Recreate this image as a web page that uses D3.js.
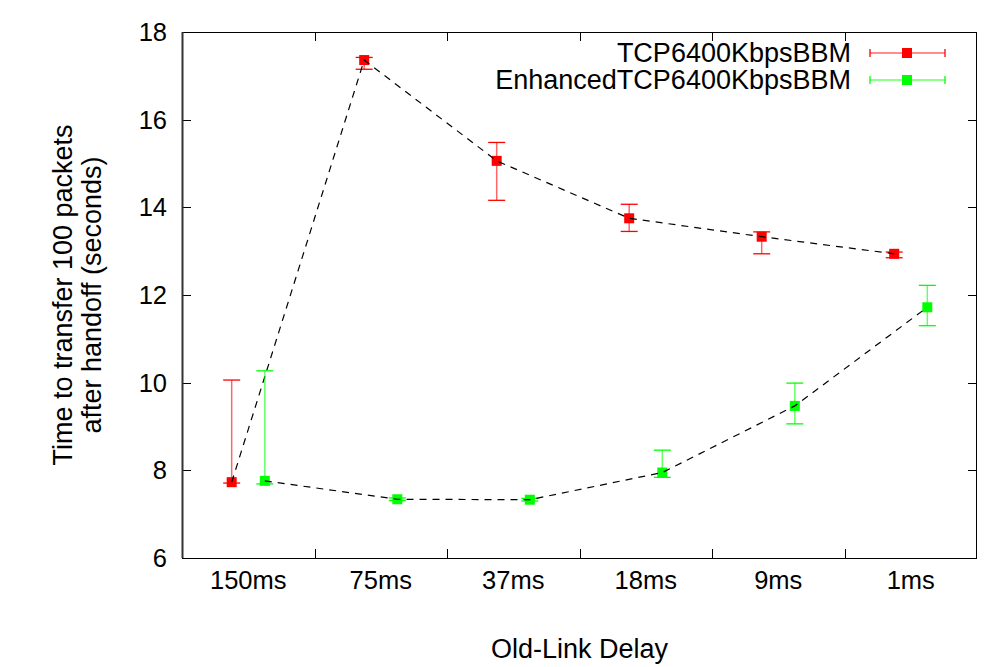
<!DOCTYPE html>
<html>
<head>
<meta charset="utf-8">
<script src="https://cdn.jsdelivr.net/npm/d3@7"></script>
<style>
  body { margin: 0; background: #fff; }
  text { font-family: "Liberation Sans", Arial, sans-serif; fill: #000; }
</style>
</head>
<body>
<div id="chart"></div>
<script>
// old-link delay categories
var categories = ['150ms', '75ms', '37ms', '18ms', '9ms', '1ms'];

// TCP6400KbpsBBM
var tcpMean = [7.73, 17.36, 15.06, 13.75, 13.33, 12.94];
var tcpLow  = [7.71, 17.15, 14.16, 13.45, 12.94, 12.85];
var tcpHigh = [10.06, 17.42, 15.48, 14.07, 13.44, 12.98];

// EnhancedTCP6400KbpsBBM
var encMean = [7.76, 7.34, 7.33, 7.95, 9.47, 11.72];
var encLow  = [7.69, 7.31, 7.30, 7.84, 9.06, 11.30];
var encHigh = [10.27, 7.37, 7.36, 8.46, 9.99, 12.22];

var yTicks = [6, 8, 10, 12, 14, 16, 18];

var seriesNames = ['TCP6400KbpsBBM', 'EnhancedTCP6400KbpsBBM'];
var seriesColors = ['#ff0000', '#00ff00'];

var W = 989, H = 667;
var margin = {left: 182, right: 12, top: 32, bottom: 109};
var tickFont = 25.5, labelFont = 27;

var svg = d3.select('#chart').append('svg')
    .attr('width', W).attr('height', H);

var x = d3.scaleBand().domain(categories)
    .range([margin.left, W - margin.right]);
var y = d3.scaleLinear().domain([6, 18])
    .range([H - margin.bottom, margin.top]);

var bw = x.bandwidth();
var offsets = [-bw / 8, bw / 8];

function series(i) {
    var m = i === 0 ? tcpMean : encMean,
        lo = i === 0 ? tcpLow : encLow,
        hi = i === 0 ? tcpHigh : encHigh;
    return categories.map(function(c, k) {
        return {cat: c, x: x(c) + bw / 2 + offsets[i], v: m[k], lo: lo[k], hi: hi[k]};
    });
}

var x0 = margin.left, x1 = W - margin.right, y0 = H - margin.bottom, y1 = margin.top;
var tickLen = 9;

// y ticks (left & right, inward)
var gy = svg.append('g');
yTicks.forEach(function(t) {
    var yy = Math.round(y(t)) + 0.5;
    gy.append('line').attr('x1', x0).attr('x2', x0 + tickLen).attr('y1', yy).attr('y2', yy)
        .attr('stroke', '#000');
    gy.append('line').attr('x1', x1 - tickLen).attr('x2', x1).attr('y1', yy).attr('y2', yy)
        .attr('stroke', '#000');
    gy.append('text').attr('x', x0 - 15).attr('y', y(t)).attr('dy', '0.35em')
        .attr('text-anchor', 'end').attr('font-size', tickFont).text(t);
});

// x ticks at category boundaries (top & bottom, inward)
var gx = svg.append('g');
categories.slice(1).forEach(function(c) {
    var xx = Math.round(x(c)) + 0.5;
    gx.append('line').attr('x1', xx).attr('x2', xx).attr('y1', y0).attr('y2', y0 - tickLen)
        .attr('stroke', '#000');
    gx.append('line').attr('x1', xx).attr('x2', xx).attr('y1', y1).attr('y2', y1 + tickLen)
        .attr('stroke', '#000');
});
categories.forEach(function(c) {
    gx.append('text').attr('x', x(c) + bw / 2).attr('y', y0 + 22).attr('dy', '0.35em')
        .attr('text-anchor', 'middle').attr('font-size', tickFont).text(c);
});

// frame
svg.append('rect').attr('x', x0 + 0.5).attr('y', y1 + 0.5)
    .attr('width', x1 - x0 - 1).attr('height', y0 - y1)
    .attr('fill', 'none').attr('stroke', '#000').attr('stroke-width', 1);
svg.append('line').attr('x1', x0 + 0.5).attr('x2', x0 + 0.5).attr('y1', y1).attr('y2', y0)
    .attr('stroke', '#333').attr('stroke-width', 2);

// axis titles
svg.append('text').attr('x', (x0 + x1) / 2).attr('y', 649).attr('dy', '0.35em')
    .attr('text-anchor', 'middle').attr('font-size', labelFont).text('Old-Link Delay');
var yt = svg.append('text').attr('transform', 'translate(77,' + ((y0 + y1) / 2) + ') rotate(-90)')
    .attr('text-anchor', 'middle').attr('font-size', labelFont);
yt.append('tspan').attr('x', 0).attr('dy', '-0.2em').text('Time to transfer 100 packets');
yt.append('tspan').attr('x', 0).attr('dy', '1.1em').text('after handoff (seconds)');

var line = d3.line().x(function(d) { return d.x; }).y(function(d) { return y(d.v); });
var capW = 8.5, ms = 5;

[0, 1].forEach(function(i) {
    var data = series(i), col = seriesColors[i];
    var g = svg.append('g');
    // error bars
    data.forEach(function(d) {
        g.append('line').attr('x1', d.x).attr('x2', d.x).attr('y1', y(d.lo)).attr('y2', y(d.hi))
            .attr('stroke', col).attr('stroke-opacity', 0.6).attr('stroke-width', 1.5);
        [d.lo, d.hi].forEach(function(v) {
            g.append('line').attr('x1', d.x - capW).attr('x2', d.x + capW)
                .attr('y1', y(v)).attr('y2', y(v)).attr('stroke', col).attr('stroke-width', 1.3);
        });
    });
    // markers
    g.selectAll('rect').data(data).join('rect')
        .attr('x', function(d) { return d.x - ms; }).attr('y', function(d) { return y(d.v) - ms; })
        .attr('width', ms * 2).attr('height', ms * 2).attr('fill', col);
    // dashed connector
    svg.append('path').datum(data).attr('d', line)
        .attr('fill', 'none').attr('stroke', '#000').attr('stroke-width', 1.2)
        .attr('stroke-dasharray', '7,6');

    // legend
    var ly = 53 + i * 27;
    svg.append('text').attr('x', 851).attr('y', ly).attr('dy', '0.35em')
        .attr('text-anchor', 'end').attr('font-size', labelFont).text(seriesNames[i]);
    svg.append('line').attr('x1', 870).attr('x2', 945).attr('y1', ly).attr('y2', ly)
        .attr('stroke', col).attr('stroke-opacity', 0.6).attr('stroke-width', 1.5);
    [870, 945].forEach(function(lx) {
        svg.append('line').attr('x1', lx).attr('x2', lx).attr('y1', ly - 4).attr('y2', ly + 4)
            .attr('stroke', col).attr('stroke-width', 1.3);
    });
    svg.append('rect').attr('x', 907 - ms).attr('y', ly - ms).attr('width', ms * 2).attr('height', ms * 2)
        .attr('fill', col);
});
</script>
</body>
</html>
